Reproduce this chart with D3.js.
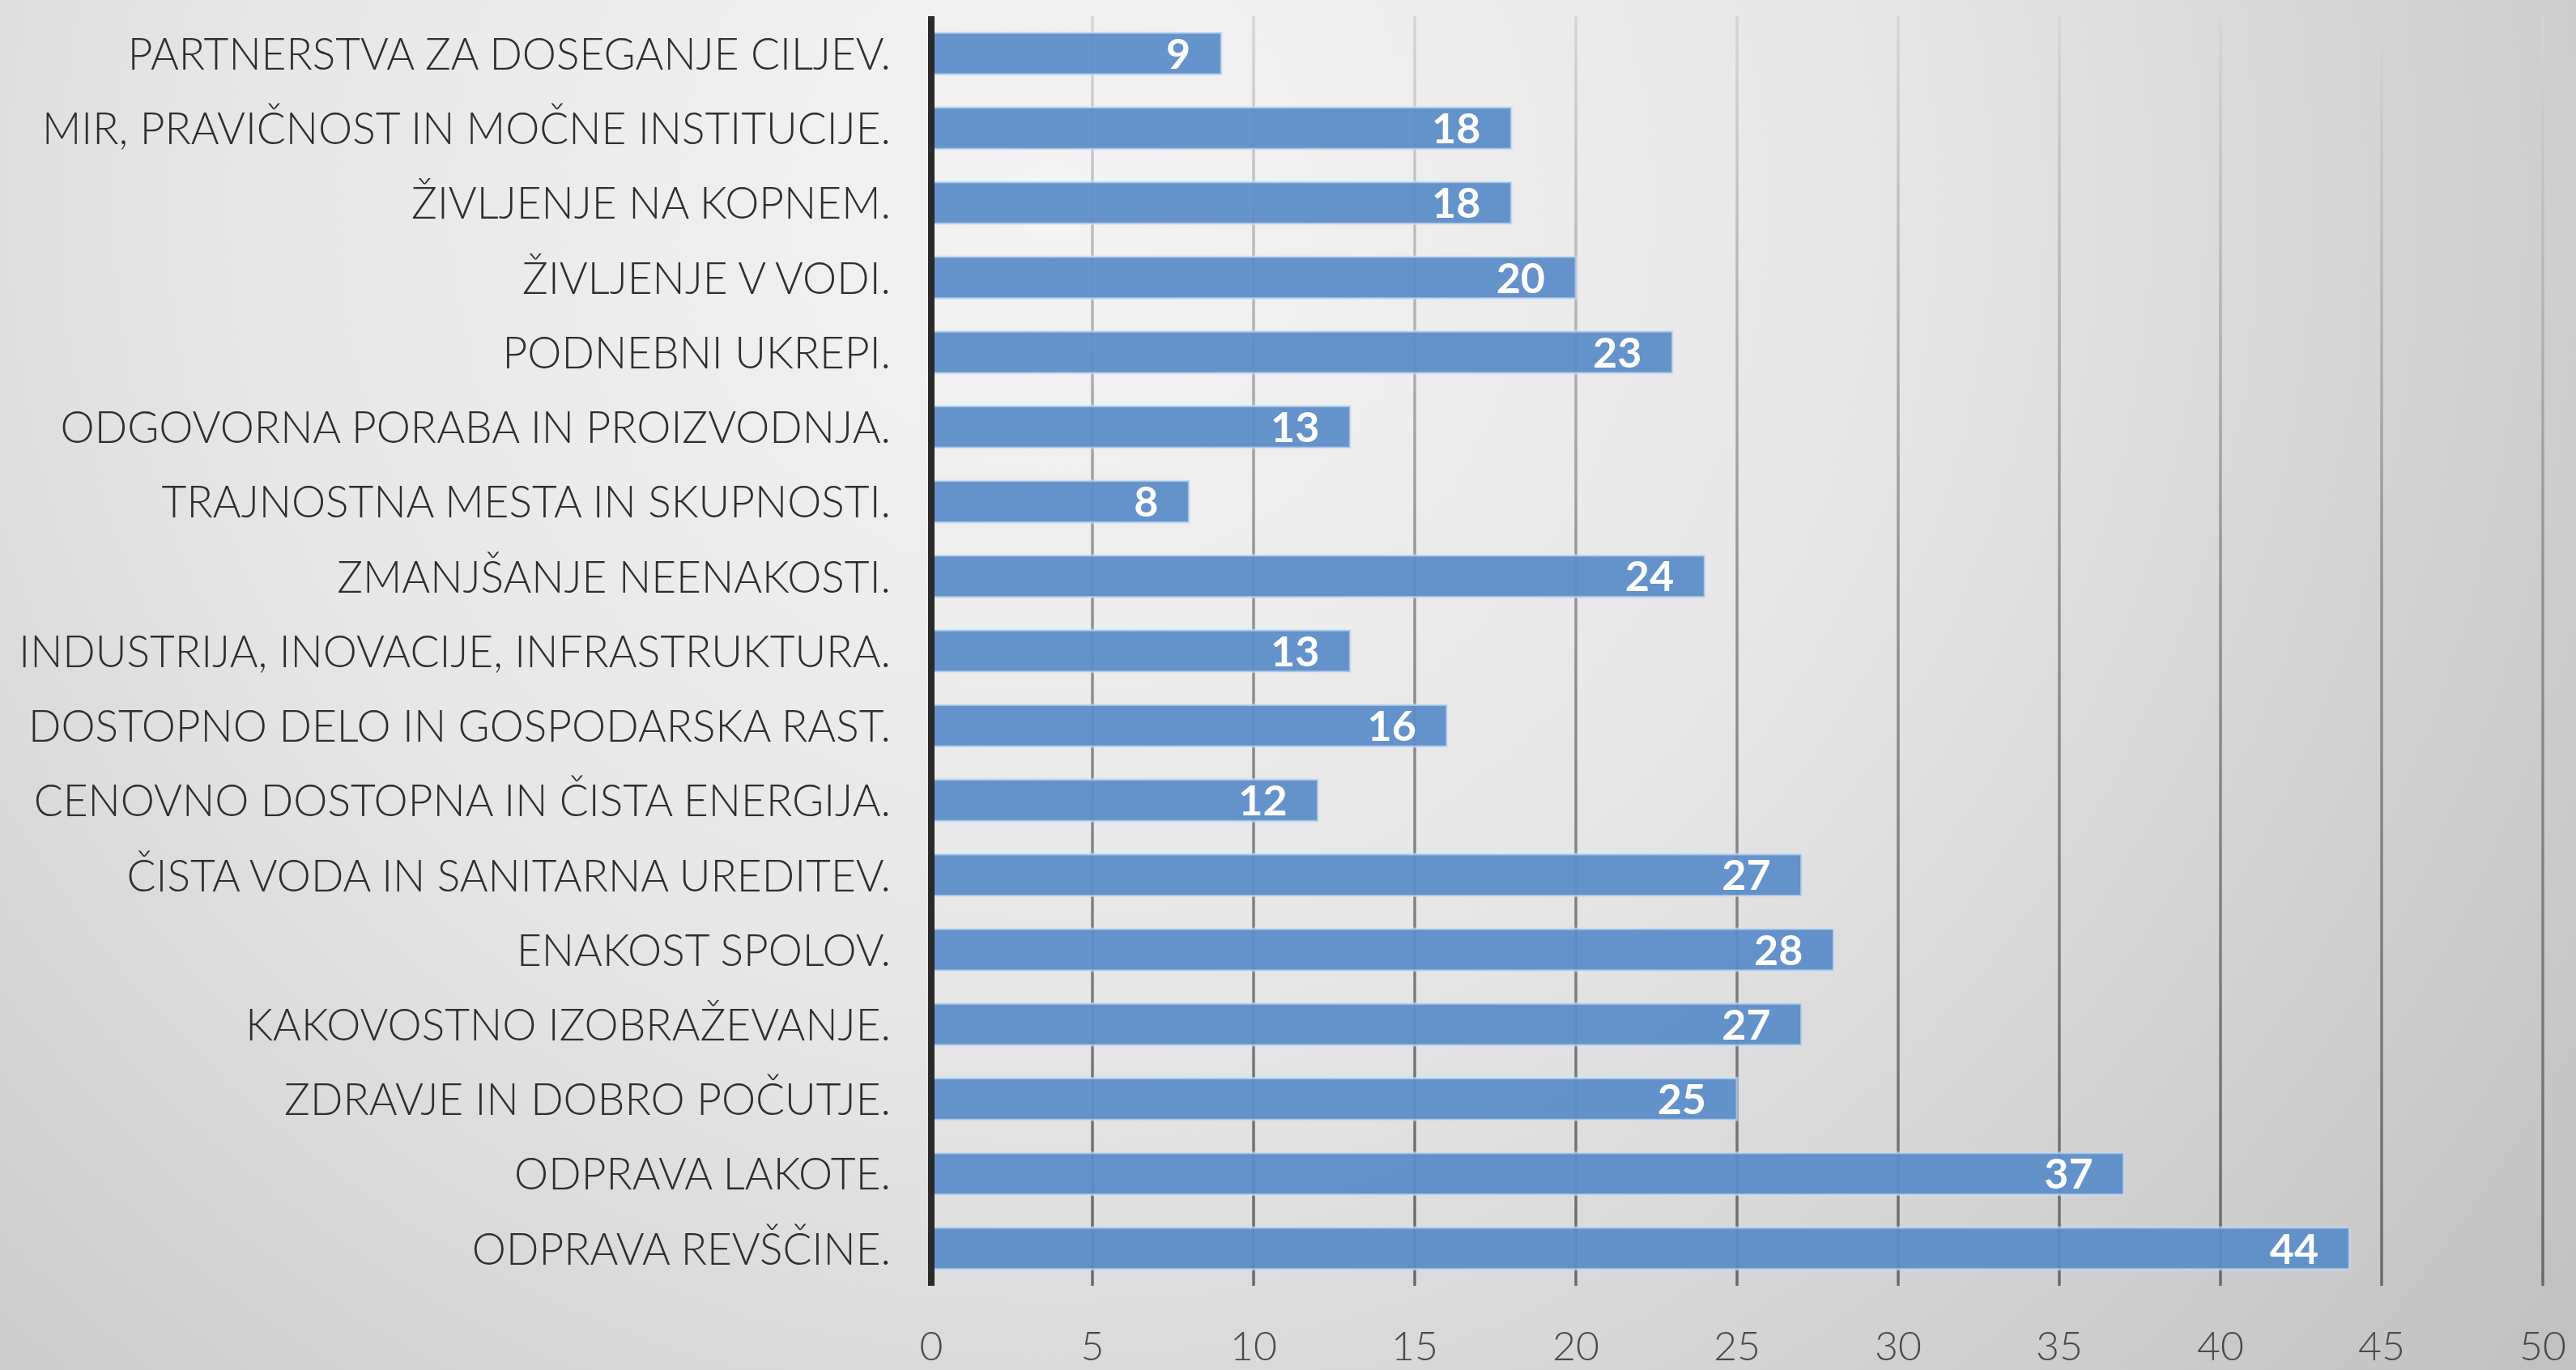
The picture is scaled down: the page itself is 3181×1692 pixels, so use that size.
<!DOCTYPE html>
<html>
<head>
<meta charset="utf-8">
<script src="https://cdn.jsdelivr.net/npm/d3@7"></script>
<style>
  html, body { margin: 0; padding: 0; overflow: hidden; }
  svg { display: block; }
  .cat-label { font-family: "Lato", "Open Sans", sans-serif; font-weight: 300; fill: #2e2e2e; }
  .tick-label { font-family: "Lato", "Open Sans", sans-serif; font-weight: 300; fill: #4a4a4a; }
  .value-label { font-family: "Lato", "Open Sans", sans-serif; font-weight: 700; fill: #fff; }
</style>
</head>
<body>
<svg id="chart"></svg>
<script>
// ── Data ──
const categories = [
  "PARTNERSTVA ZA DOSEGANJE CILJEV.",
  "MIR, PRAVIČNOST IN MOČNE INSTITUCIJE.",
  "ŽIVLJENJE NA KOPNEM.",
  "ŽIVLJENJE V VODI.",
  "PODNEBNI UKREPI.",
  "ODGOVORNA PORABA IN PROIZVODNJA.",
  "TRAJNOSTNA MESTA IN SKUPNOSTI.",
  "ZMANJŠANJE NEENAKOSTI.",
  "INDUSTRIJA, INOVACIJE, INFRASTRUKTURA.",
  "DOSTOPNO DELO IN GOSPODARSKA RAST.",
  "CENOVNO DOSTOPNA IN ČISTA ENERGIJA.",
  "ČISTA VODA IN SANITARNA UREDITEV.",
  "ENAKOST SPOLOV.",
  "KAKOVOSTNO IZOBRAŽEVANJE.",
  "ZDRAVJE IN DOBRO POČUTJE.",
  "ODPRAVA LAKOTE.",
  "ODPRAVA REVŠČINE."
];
const values = [9, 18, 18, 20, 23, 13, 8, 24, 13, 16, 12, 27, 28, 27, 25, 37, 44];
const xTicks = [0, 5, 10, 15, 20, 25, 30, 35, 40, 45, 50];

// ── Dimensions ──
const W = 3181, H = 1692;
const x0 = 1150, x1 = 3140;
const yTop = 20, yBottom = 1588;

const svg = d3.select("#chart").attr("width", W).attr("height", H);
const defs = svg.append("defs");

// background gradient
const bg = defs.append("radialGradient")
  .attr("id", "bg")
  .attr("gradientUnits", "userSpaceOnUse")
  .attr("cx", 1300).attr("cy", 250).attr("r", 2300);
bg.append("stop").attr("offset", "0").attr("stop-color", "#f4f4f4");
bg.append("stop").attr("offset", "0.45").attr("stop-color", "#e6e6e6");
bg.append("stop").attr("offset", "1").attr("stop-color", "#c2c2c2");

// gridline gradient (lighter at the top)
const gg = defs.append("linearGradient")
  .attr("id", "grid")
  .attr("gradientUnits", "userSpaceOnUse")
  .attr("x1", 0).attr("x2", 0).attr("y1", yTop).attr("y2", yBottom);
gg.append("stop").attr("offset", "0").attr("stop-color", "#d6d6d6");
gg.append("stop").attr("offset", "0.45").attr("stop-color", "#939393");
gg.append("stop").attr("offset", "1").attr("stop-color", "#6a6a6a");

svg.append("rect").attr("width", W).attr("height", H).attr("fill", "url(#bg)");

// ── Scales ──
const x = d3.scaleLinear().domain([0, 50]).range([x0, x1]);
const y = d3.scaleBand()
  .domain(categories)
  .range([yTop, yBottom])
  .paddingInner(0.44)
  .paddingOuter(0.22);

// ── Gridlines ──
svg.append("g")
  .selectAll("line")
  .data(xTicks.slice(1))
  .join("line")
  .attr("x1", d => x(d)).attr("x2", d => x(d))
  .attr("y1", yTop).attr("y2", yBottom)
  .attr("stroke", "url(#grid)")
  .attr("stroke-width", 3.5);

// ── Bars ──
const rows = categories.map((c, i) => ({ cat: c, value: values[i] }));

svg.append("g")
  .selectAll("rect")
  .data(rows)
  .join("rect")
  .attr("x", x(0))
  .attr("y", d => y(d.cat))
  .attr("width", d => x(d.value) - x(0))
  .attr("height", y.bandwidth())
  .attr("fill", "#5b8cc8")
  .attr("fill-opacity", 0.94)
  .attr("stroke", "#cfe2f7")
  .attr("stroke-opacity", 0.6)
  .attr("stroke-width", 3);

// ── Axis line ──
svg.append("line")
  .attr("x1", x(0)).attr("x2", x(0))
  .attr("y1", yTop).attr("y2", yBottom)
  .attr("stroke", "#2a2a2a")
  .attr("stroke-width", 8);

// ── Value labels ──
svg.append("g")
  .selectAll("text")
  .data(rows)
  .join("text")
  .attr("class", "value-label")
  .attr("x", d => x(d.value) - 38)
  .attr("y", d => y(d.cat) + y.bandwidth() / 2)
  .attr("dy", "0.36em")
  .attr("text-anchor", "end")
  .attr("font-size", 52)
  .text(d => d.value);

// ── Category labels ──
const catLabels = svg.append("g")
  .selectAll("text")
  .data(categories)
  .join("text")
  .attr("class", "cat-label")
  .attr("font-size", 55)
  .attr("text-anchor", "end")
  .attr("dy", "0.36em")
  .text(d => d);

// squeeze horizontally so the widest label matches the narrow original face
const widest = d3.max(catLabels.nodes(), n => n.getComputedTextLength());
const sx = Math.min(1, 1077 / widest);
catLabels.attr("transform", d => `translate(1100,${y(d) + y.bandwidth() / 2}) scale(${sx},1)`);

// ── X tick labels ──
svg.append("g")
  .selectAll("text")
  .data(xTicks)
  .join("text")
  .attr("class", "tick-label")
  .attr("x", d => x(d))
  .attr("y", 1662)
  .attr("dy", "0.36em")
  .attr("text-anchor", "middle")
  .attr("font-size", 50)
  .text(d => d);
</script>
</body>
</html>
